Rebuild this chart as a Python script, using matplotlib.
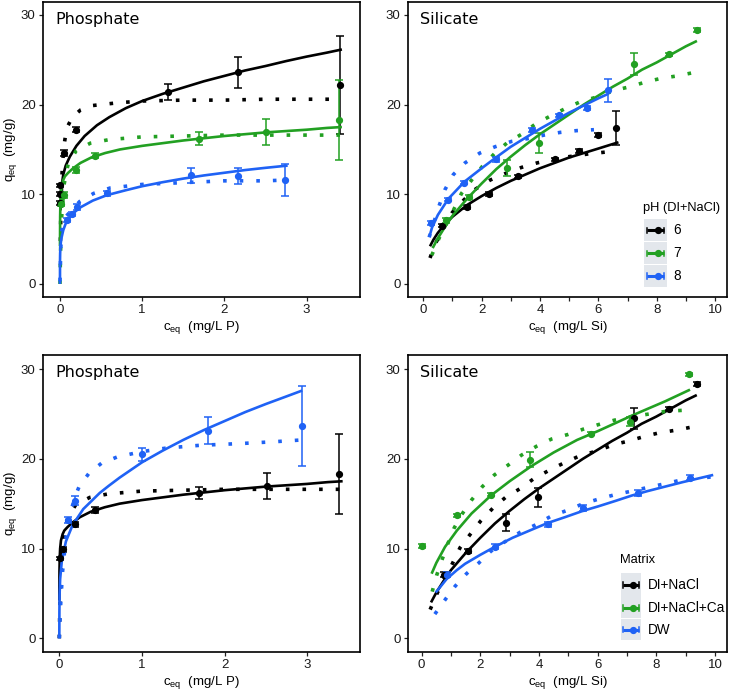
import matplotlib
matplotlib.use('Agg')
import matplotlib.pyplot as plt
from matplotlib.patches import Rectangle

plt.rcParams['font.family'] = ['Liberation Sans', 'DejaVu Sans']

BLACK = '#000000'
GREEN = '#22a022'
BLUE = '#1f62f5'
KEY_BG = '#e3e7ec'

# ---- phosphate (mg/L P) ----
# pH 6, DI+NaCl
p6_c = [0.0, 0.0, 0.0, 0.05, 0.2, 1.32, 2.17, 3.41]
p6_q = [11.0, 10.0, 9.0, 14.6, 17.2, 21.4, 23.6, 22.2]
p6_e = [0.2, 0.2, 0.2, 0.3, 0.3, 0.9, 1.7, 5.5]
p6_fit_c = [0.005, 0.01, 0.02, 0.04, 0.07, 0.12, 0.2, 0.3, 0.45, 0.6, 0.8, 1.0, 1.25, 1.5,
            1.75, 2.0, 2.25, 2.5, 2.75, 3.0, 3.25, 3.43]
p6_fit_q = [8.2, 9.6, 10.9, 12.2, 13.2, 14.2, 15.4, 16.5, 17.7, 18.6, 19.6, 20.4, 21.2, 21.9,
            22.6, 23.2, 23.8, 24.3, 24.85, 25.35, 25.8, 26.15]
p6_dot_c = [0.005, 0.01, 0.02, 0.03, 0.05, 0.07, 0.1, 0.15, 0.25, 0.4, 0.7, 1.0, 1.5, 2.0, 2.5, 3.0, 3.43]
p6_dot_q = [4.8, 7.8, 11.3, 13.3, 15.5, 16.7, 17.7, 18.6, 19.4, 19.9, 20.2, 20.4, 20.5, 20.5, 20.6, 20.6, 20.6]

# pH 7, DI+NaCl (also the DI+NaCl series of the matrix panel)
p7_c = [0.01, 0.05, 0.19, 0.43, 1.69, 2.51, 3.39]
p7_q = [8.9, 9.9, 12.7, 14.3, 16.2, 17.0, 18.3]
p7_e = [0.2, 0.3, 0.3, 0.3, 0.7, 1.45, 4.45]
p7_fit_c = [0.0, 0.002, 0.005, 0.01, 0.02, 0.04, 0.06, 0.1, 0.16, 0.25, 0.38, 0.55, 0.73, 1.0,
            1.25, 1.5, 1.75, 2.0, 2.25, 2.5, 2.75, 3.0, 3.25, 3.43]
p7_fit_q = [4.2, 7.5, 9.0, 10.0, 10.9, 11.6, 12.0, 12.4, 12.9, 13.5, 14.1, 14.6, 15.0, 15.4,
            15.7, 16.0, 16.25, 16.5, 16.7, 16.9, 17.05, 17.2, 17.4, 17.5]
p7_dot_c = [0.0, 0.005, 0.01, 0.02, 0.05, 0.1, 0.2, 0.37, 0.6, 1.0, 1.5, 2.0, 2.5, 3.0, 3.43]
p7_dot_q = [0.0, 2.7, 4.7, 7.4, 11.1, 13.4, 14.9, 15.7, 16.1, 16.4, 16.5, 16.6, 16.6, 16.6, 16.6]

# pH 8, DI+NaCl
p8_c = [0.08, 0.15, 0.21, 0.57, 1.59, 2.16, 2.74]
p8_q = [7.1, 7.8, 8.6, 10.1, 12.1, 12.0, 11.6]
p8_e = [0.2, 0.2, 0.3, 0.3, 0.8, 0.9, 1.75]
p8_fit_c = [0.0, 0.0005, 0.002, 0.005, 0.01, 0.02, 0.04, 0.08, 0.15, 0.24, 0.4, 0.57, 0.8, 1.0,
            1.25, 1.5, 1.75, 2.0, 2.25, 2.5, 2.77]
p8_fit_q = [0.0, 2.6, 3.4, 4.0, 4.6, 5.2, 6.0, 7.0, 7.8, 8.5, 9.3, 9.9, 10.45, 10.9,
            11.35, 11.75, 12.1, 12.4, 12.7, 12.95, 13.2]
p8_dot_c = [0.0, 0.005, 0.01, 0.02, 0.04, 0.07, 0.13, 0.24, 0.41, 0.61, 1.0, 1.5, 2.0, 2.5, 2.77]
p8_dot_q = [0.3, 2.1, 4.0, 5.8, 6.8, 7.5, 8.1, 9.2, 10.1, 10.7, 11.1, 11.3, 11.5, 11.5, 11.6]

# DW
pdw_c = [0.11, 0.19, 1.0, 1.8, 2.94]
pdw_q = [13.2, 15.3, 20.5, 23.1, 23.7]
pdw_e = [0.3, 0.5, 0.75, 1.5, 4.45]
pdw_fit_c = [0.0, 0.001, 0.003, 0.01, 0.03, 0.08, 0.16, 0.29, 0.49, 0.6, 0.73, 1.0, 1.25, 1.5,
             1.75, 2.0, 2.25, 2.5, 2.75, 2.94]
pdw_fit_q = [0.0, 3.0, 4.8, 6.6, 8.6, 10.8, 12.6, 14.4, 16.2, 17.0, 17.9, 19.6, 20.9, 22.1,
             23.2, 24.2, 25.2, 26.1, 26.95, 27.6]
pdw_dot_c = [0.0, 0.005, 0.01, 0.02, 0.04, 0.08, 0.12, 0.19, 0.24, 0.36, 0.51, 0.7, 1.0, 1.3, 1.7, 2.2, 2.6, 2.94]
pdw_dot_q = [0.0, 1.3, 2.5, 4.5, 7.5, 11.2, 13.5, 15.8, 16.9, 18.4, 19.5, 20.2, 20.8, 21.2, 21.5, 21.7, 21.9, 22.1]

# ---- silicate (mg/L Si) ----
s6_c = [0.63, 1.51, 2.25, 3.26, 4.51, 5.34, 5.98, 6.59]
s6_q = [6.5, 8.6, 10.0, 12.0, 13.9, 14.8, 16.6, 17.4]
s6_e = [0.2, 0.2, 0.2, 0.2, 0.2, 0.2, 0.2, 1.85]
s6_fit_c = [0.23, 0.35, 0.5, 0.75, 1.0, 1.5, 2.0, 2.5, 3.0, 3.5, 4.0, 4.5, 5.0, 5.5, 6.0, 6.69]
s6_fit_q = [4.2, 4.95, 5.7, 6.7, 7.5, 8.8, 9.8, 10.7, 11.5, 12.2, 12.9, 13.5, 14.1, 14.6, 15.1, 15.8]
s6_dot_c = [0.23, 0.43, 1.0, 1.4, 1.8, 2.3, 2.8, 3.37, 3.9, 4.46, 5.0, 5.66, 6.23]
s6_dot_q = [2.9, 4.6, 8.0, 9.4, 10.6, 11.6, 12.3, 13.0, 13.5, 13.9, 14.2, 14.5, 14.7]

s7_c = [0.77, 1.58, 2.86, 3.98, 7.23, 8.43, 9.39]
s7_q = [7.1, 9.7, 12.9, 15.7, 24.5, 25.6, 28.3]
s7_e = [0.3, 0.2, 0.9, 1.1, 1.2, 0.2, 0.2]
s7_fit_c = [0.32, 0.5, 0.75, 1.0, 1.5, 2.0, 2.5, 3.0, 3.5, 4.0, 4.5, 5.0, 5.5, 6.0, 6.5, 7.0,
            7.5, 8.0, 8.5, 9.0, 9.38]
s7_fit_q = [4.0, 5.1, 6.4, 7.6, 9.5, 11.2, 12.8, 14.2, 15.5, 16.7, 17.8, 18.9, 20.0, 21.0, 22.0, 22.9,
            23.9, 24.7, 25.6, 26.5, 27.1]
s7_dot_c = [0.29, 0.54, 1.06, 1.31, 1.66, 2.02, 2.43, 2.86, 3.37, 3.83, 4.34, 4.83, 5.37, 6.0,
            6.57, 7.09, 7.6, 8.11, 8.7, 9.31]
s7_dot_q = [3.2, 5.1, 8.4, 10.1, 11.6, 13.1, 14.5, 15.7, 16.7, 17.8, 18.7, 19.5, 20.3, 20.9,
            21.6, 22.0, 22.5, 22.9, 23.2, 23.6]

s8_c = [0.26, 0.86, 1.41, 2.49, 3.71, 4.66, 5.6, 6.34]
s8_q = [6.8, 9.4, 11.3, 13.9, 17.2, 18.8, 19.6, 21.6]
s8_e = [0.2, 0.2, 0.2, 0.3, 0.2, 0.2, 0.2, 1.3]
s8_fit_c = [0.23, 0.3, 0.5, 0.86, 1.41, 2.0, 2.49, 3.0, 3.5, 4.0, 4.66, 5.0, 5.5, 6.0, 6.34]
s8_fit_q = [5.5, 6.3, 7.7, 9.5, 11.4, 12.9, 14.1, 15.3, 16.3, 17.3, 18.5, 19.1, 19.9, 20.7, 21.2]
s8_dot_c = [0.2, 0.54, 0.74, 1.03, 1.43, 1.94, 2.46, 3.03, 3.57, 4.14, 4.69, 5.26, 5.85]
s8_dot_q = [5.2, 8.7, 10.5, 12.2, 13.5, 14.6, 15.3, 15.9, 16.2, 16.6, 16.9, 17.1, 17.2]

sca_c = [0.0, 1.22, 2.36, 3.69, 5.76, 7.1, 9.13]
sca_q = [10.3, 13.7, 16.0, 19.9, 22.8, 24.1, 29.4]
sca_e = [0.2, 0.2, 0.2, 0.8, 0.2, 0.5, 0.2]
sca_fit_c = [0.34, 0.5, 0.8, 1.2, 1.7, 2.36, 3.0, 3.75, 4.5, 5.3, 6.02, 7.16, 8.3, 9.15]
sca_fit_q = [7.2, 8.4, 10.2, 12.0, 13.9, 15.9, 17.5, 19.2, 20.7, 22.1, 23.1, 24.8, 26.4, 27.7]
sca_dot_c = [0.36, 0.51, 0.7, 0.9, 1.11, 1.39, 1.7, 2.07, 2.48, 2.95, 3.4, 3.92, 4.43, 4.98,
             5.51, 6.02, 6.57, 7.16, 7.78, 8.35, 8.92]
sca_dot_q = [5.2, 7.0, 8.8, 10.6, 12.3, 13.9, 15.4, 16.9, 18.2, 19.3, 20.4, 21.4, 22.2, 22.7,
             23.3, 23.8, 24.3, 24.7, 25.0, 25.3, 25.4]

sdw_c = [0.85, 2.5, 4.3, 5.51, 7.36, 9.15]
sdw_q = [7.1, 10.2, 12.7, 14.5, 16.2, 17.9]
sdw_e = [0.3, 0.3, 0.3, 0.3, 0.3, 0.3]
sdw_fit_c = [0.48, 0.85, 1.2, 1.48, 2.0, 2.5, 3.1, 3.75, 4.3, 4.89, 5.5, 6.02, 6.6, 7.16, 7.7,
             8.3, 8.9, 9.94]
sdw_fit_q = [5.1, 6.6, 7.6, 8.3, 9.3, 10.2, 11.2, 12.1, 12.85, 13.5, 14.2, 14.7, 15.3, 15.9, 16.4,
             16.9, 17.4, 18.2]
sdw_dot_c = [0.45, 0.8, 1.14, 1.53, 1.95, 2.36, 2.86, 3.35, 3.86, 4.41, 5.0, 5.51, 6.02, 6.59,
             7.16, 7.7, 8.27, 8.8, 9.38, 9.94]
sdw_dot_q = [2.7, 4.3, 5.8, 7.2, 8.4, 9.7, 10.8, 11.8, 12.6, 13.6, 14.3, 15.0, 15.5, 16.0,
             16.4, 16.8, 17.2, 17.6, 17.8, 18.0]

y_ticks = [0, 10, 20, 30]
p_xticks = [0, 1, 2, 3]
s_xticks = list(range(0, 11))
s_xlabels = ['0', '', '2', '', '4', '', '6', '', '8', '', '10']

ph_labels = ['6', '7', '8']
matrix_labels = ['DI+NaCl', 'DI+NaCl+Ca', 'DW']


def draw_series(ax, c, q, e, fc, fq, dc, dq, color):
    ax.errorbar(c, q, yerr=e, fmt='o', color=color, ms=4.2, elinewidth=1.1,
                capsize=3, capthick=1.1, zorder=3)
    ax.plot(fc, fq, '-', color=color, lw=1.9, zorder=3, solid_capstyle='butt')
    ax.plot(dc, dq, color=color, lw=2.6, linestyle=(0, (1, 3.6)),
            dash_capstyle='butt', zorder=3)


def style_axes(ax, title, xlim, ylim, xticks, xlabels, xlabel, ylabel=None):
    ax.set_xlim(*xlim)
    ax.set_ylim(*ylim)
    ax.set_xticks(xticks)
    ax.set_xticklabels(xlabels)
    ax.set_yticks(y_ticks)
    for s in ax.spines.values():
        s.set_linewidth(1.2)
    ax.tick_params(length=3, width=0.9, labelsize=9.5, pad=2.5, colors='#222222',
                   labelcolor='#1a1a1a')
    ax.set_xlabel(xlabel, fontsize=9.5, labelpad=2)
    if ylabel:
        ax.set_ylabel(ylabel, fontsize=9.5, labelpad=1)
    ax.text(0.037, 0.94, title, transform=ax.transAxes, ha='left', va='center',
            fontsize=11.5, family='DejaVu Sans')


def draw_key(ax, title, labels, colors, x0, y_title, rows, w, label_x):
    ax.text(x0 - 0.003, y_title, title, transform=ax.transAxes, ha='left',
            va='center', fontsize=9.3)
    for (top, bot), lab, col in zip(rows, labels, colors):
        ax.add_patch(Rectangle((x0, bot), w, top - bot, transform=ax.transAxes,
                               facecolor=KEY_BG, edgecolor='none', zorder=4))
        ym = (top + bot) / 2
        ax.plot([x0 + 0.12 * w, x0 + 0.88 * w], [ym, ym], color=col, lw=2.2,
                transform=ax.transAxes, zorder=5, solid_capstyle='butt')
        ax.plot([x0 + 0.5 * w + 0.12 * w], [ym], 'o', color=col, ms=4.2,
                transform=ax.transAxes, zorder=5)
        for xe in (x0 + 0.12 * w, x0 + 0.88 * w):
            ax.plot([xe, xe], [ym - 0.009, ym + 0.009], color=col, lw=1.1,
                    transform=ax.transAxes, zorder=5)
        ax.text(label_x, ym, lab, transform=ax.transAxes, ha='left', va='center',
                fontsize=9.8)


fig = plt.figure(figsize=(7.35, 6.9), dpi=100)
ax1 = fig.add_axes([0.0589, 0.570, 0.4309, 0.4276])
ax2 = fig.add_axes([0.5555, 0.570, 0.4332, 0.4276])
ax3 = fig.add_axes([0.0589, 0.0555, 0.4309, 0.4300])
ax4 = fig.add_axes([0.5555, 0.0555, 0.4332, 0.4300])

qlabel = 'q$_\\mathregular{eq}$  (mg/g)'

# phosphate vs pH
draw_series(ax1, p6_c, p6_q, p6_e, p6_fit_c, p6_fit_q, p6_dot_c, p6_dot_q, BLACK)
draw_series(ax1, p7_c, p7_q, p7_e, p7_fit_c, p7_fit_q, p7_dot_c, p7_dot_q, GREEN)
draw_series(ax1, p8_c, p8_q, p8_e, p8_fit_c, p8_fit_q, p8_dot_c, p8_dot_q, BLUE)
style_axes(ax1, 'Phosphate', (-0.203, 3.65), (-1.42, 31.48), p_xticks,
           [str(t) for t in p_xticks], 'c$_\\mathregular{eq}$  (mg/L P)', qlabel)

# silicate vs pH
draw_series(ax2, s6_c, s6_q, s6_e, s6_fit_c, s6_fit_q, s6_dot_c, s6_dot_q, BLACK)
draw_series(ax2, s7_c, s7_q, s7_e, s7_fit_c, s7_fit_q, s7_dot_c, s7_dot_q, GREEN)
draw_series(ax2, s8_c, s8_q, s8_e, s8_fit_c, s8_fit_q, s8_dot_c, s8_dot_q, BLUE)
style_axes(ax2, 'Silicate', (-0.514, 10.4), (-1.42, 31.48), s_xticks, s_xlabels,
           'c$_\\mathregular{eq}$  (mg/L Si)')
draw_key(ax2, 'pH (DI+NaCl)', ph_labels, [BLACK, GREEN, BLUE], 0.740, 0.301,
         [(0.263, 0.188), (0.184, 0.111), (0.107, 0.034)], 0.072, 0.831)

# phosphate vs matrix
draw_series(ax3, p7_c, p7_q, p7_e, p7_fit_c, p7_fit_q, p7_dot_c, p7_dot_q, BLACK)
draw_series(ax3, pdw_c, pdw_q, pdw_e, pdw_fit_c, pdw_fit_q, pdw_dot_c, pdw_dot_q, BLUE)
style_axes(ax3, 'Phosphate', (-0.194, 3.64), (-1.49, 31.56), p_xticks,
           [str(t) for t in p_xticks], 'c$_\\mathregular{eq}$  (mg/L P)', qlabel)

# silicate vs matrix
draw_series(ax4, s7_c, s7_q, s7_e, s7_fit_c, s7_fit_q, s7_dot_c, s7_dot_q, BLACK)
draw_series(ax4, sca_c, sca_q, sca_e, sca_fit_c, sca_fit_q, sca_dot_c, sca_dot_q, GREEN)
draw_series(ax4, sdw_c, sdw_q, sdw_e, sdw_fit_c, sdw_fit_q, sdw_dot_c, sdw_dot_q, BLUE)
style_axes(ax4, 'Silicate', (-0.455, 10.4), (-1.49, 31.56), s_xticks, s_xlabels,
           'c$_\\mathregular{eq}$  (mg/L Si)')
draw_key(ax4, 'Matrix', matrix_labels, [BLACK, GREEN, BLUE], 0.668, 0.309,
         [(0.264, 0.186), (0.183, 0.112), (0.109, 0.039)], 0.063, 0.752)

fig.savefig('out.png', dpi=100)
